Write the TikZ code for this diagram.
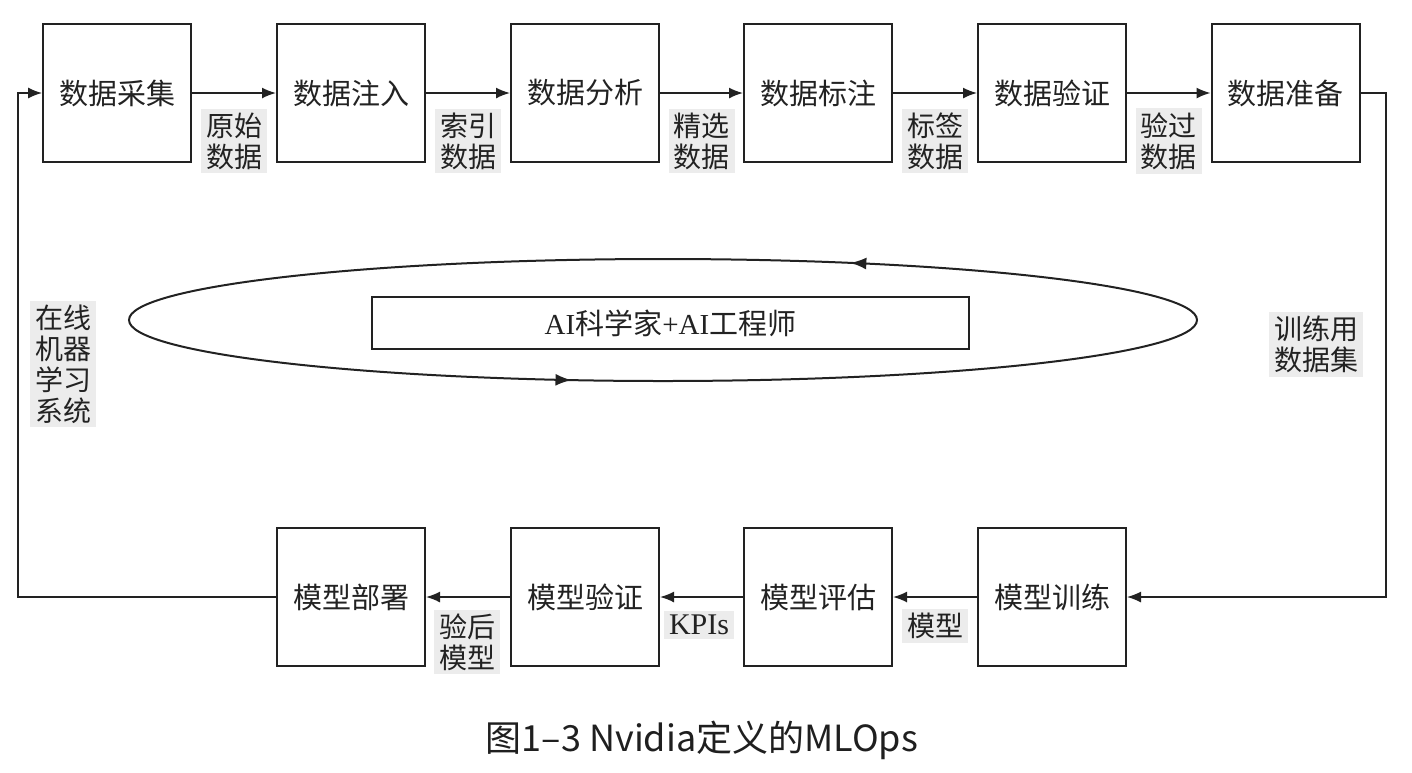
\documentclass[tikz,border=0pt]{standalone}
\usepackage{fontspec}
\setmainfont{Liberation Serif}
\newfontfamily\cjk{Noto Sans CJK SC}
\usetikzlibrary{arrows.meta,decorations.markings}
\definecolor{ink}{HTML}{222222}
\definecolor{lblbg}{HTML}{ECECEC}
\begin{document}
\begin{tikzpicture}[x=1pt,y=-1pt,
  box/.style={draw=ink, line width=2pt, minimum width=148pt, minimum height=138pt, inner sep=0pt,
    font=\cjk\fontsize{29}{31}\selectfont, text=ink},
  lbl/.style={fill=lblbg, inner xsep=5pt, inner ysep=4pt, align=center,
    font=\cjk\fontsize{28}{31}\selectfont, text=ink},
  conn/.style={draw=ink, line width=1.6pt, -{Latex[length=14pt,width=11pt]}},
  backline/.style={draw=ink, line width=1.3pt, -{Latex[length=14pt,width=11pt]}}
]
\useasboundingbox (0,0) rectangle (1412,772);

% top row
\node[box] (b1) at (117,93) {数据采集};
\node[box] (b2) at (351,93) {数据注入};
\node[box] (b3) at (585,93) {数据分析};
\node[box] (b4) at (818,93) {数据标注};
\node[box] (b5) at (1052,93) {数据验证};
\node[box] (b6) at (1285.5,93) {数据准备};

% bottom row
\node[box] (m1) at (1052,597) {模型训练};
\node[box] (m2) at (818,597) {模型评估};
\node[box] (m3) at (585,597) {模型验证};
\node[box] (m4) at (351,597) {模型部署};

% top connectors
\draw[conn] (b1.east) -- (b2.west);
\draw[conn] (b2.east) -- (b3.west);
\draw[conn] (b3.east) -- (b4.west);
\draw[conn] (b4.east) -- (b5.west);
\draw[conn] (b5.east) -- (b6.west);

% bottom connectors
\draw[conn] (m1.west) -- (m2.east);
\draw[conn] (m2.west) -- (m3.east);
\draw[conn] (m3.west) -- (m4.east);

% loops
\coordinate (r1) at (1386,93);
\coordinate (r2) at (1386,597);
\coordinate (l1) at (18,93);
\coordinate (l2) at (18,597);
\draw[backline] (b6.east) -- (r1) -- (r2) -- (m1.east);
\draw[backline] (m4.west) -- (l2) -- (l1) -- (b1.west);

% labels
\node[lbl] (t1) at (234,141) {原始\\数据};
\node[lbl] (t2) at (468,141) {索引\\数据};
\node[lbl] (t3) at (701.5,141) {精选\\数据};
\node[lbl] (t4) at (935,141) {标签\\数据};
\node[lbl] (t5) at (1168.5,141) {验过\\数据};
\node[lbl] (t6) at (1316,344) {训练用\\数据集};
\node[lbl] (t7) at (63,364) {在线\\机器\\学习\\系统};
\node[lbl] (t8) at (935,626) {模型};
\node[lbl] (t9) at (699,625) {\rmfamily\fontsize{30}{31}\selectfont KPIs};
\node[lbl] (t10) at (467,642) {验后\\模型};

% ellipse
\draw[ink, line width=2pt, postaction={decorate},
  decoration={markings,
    mark=at position 0.164 with {\arrow{Latex[length=16pt,width=12pt]}},
    mark=at position 0.708 with {\arrow{Latex[length=16pt,width=12pt]}}}]
  (663,320) ellipse [x radius=534pt, y radius=61pt];
\node[draw=ink, line width=2pt, minimum width=597pt, minimum height=52pt, inner sep=0pt,
  font=\fontsize{29}{31}\selectfont, text=ink] (ai) at (670.5,323) {AI{\cjk 科学家}+AI{\cjk 工程师}};

% caption
\node[font=\cjk\fontsize{36}{40}\selectfont, text=black!88] (cap) at (702,740) {图1–3 Nvidia定义的MLOps};
\end{tikzpicture}
\end{document}
